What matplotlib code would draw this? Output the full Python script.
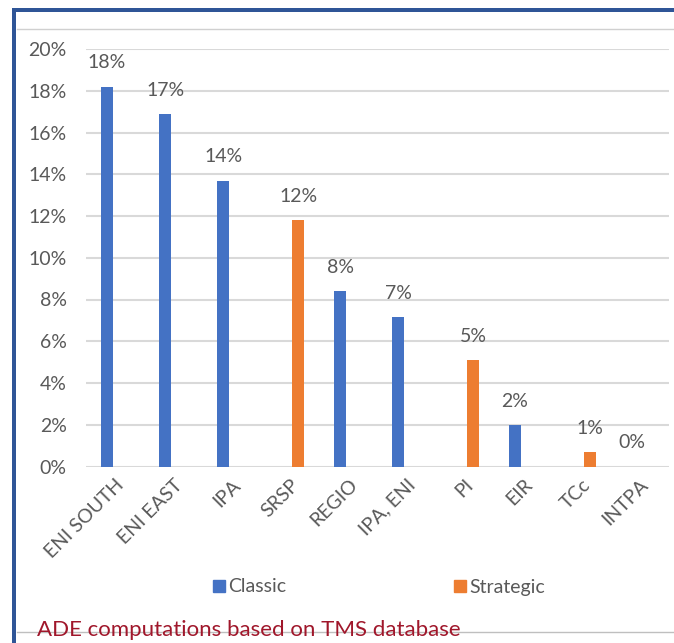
"""
Part des projets par instrument (Classic vs Strategic)
"""

import numpy as np
import matplotlib.pyplot as plt
from matplotlib.patches import Rectangle
from matplotlib.lines import Line2D

# ==================== DONNÉES ====================
categories = ['ENI SOUTH', 'ENI EAST', 'IPA', 'SRSP', 'REGIO', 'IPA, ENI', 'PI', 'EIR', 'TCc', 'INTPA']
classic = [18.2, 16.9, 13.7, 0, 8.4, 7.15, 0, 2.0, 0, 0.0]
strategic = [0, 0, 0, 11.8, 0, 0, 5.1, 0, 0.7, 0]
labels = ['18%', '17%', '14%', '12%', '8%', '7%', '5%', '2%', '1%', '0%']
label_series = ['c', 'c', 'c', 's', 'c', 'c', 's', 'c', 's', 'c']
yticks = [0, 2, 4, 6, 8, 10, 12, 14, 16, 18, 20]

BLUE = '#4472C4'
ORANGE = '#ED7D31'
GREY_TXT = '#595959'
GRID = '#D9D9D9'

plt.rcParams['font.family'] = ['Lato', 'DejaVu Sans']

fig = plt.figure(figsize=(6.74, 6.43), dpi=100)
W, H = 674, 643

# cadre bleu + boîte grise
fig.add_artist(Rectangle((12 / W, 1 - 12 / H), 1, 4 / H, transform=fig.transFigure,
                         color='#2F5597', lw=0))
fig.add_artist(Rectangle((12 / W, 0), 4 / W, 1 - 8 / H, transform=fig.transFigure,
                         color='#2F5597', lw=0))
fig.add_artist(Line2D([17 / W, 1], [1 - 29 / H, 1 - 29 / H], transform=fig.transFigure,
                      color='#D0D0D0', lw=1))
fig.add_artist(Line2D([17 / W, 1], [1 - 632 / H, 1 - 632 / H], transform=fig.transFigure,
                      color='#BFBFBF', lw=1))

# axes
left, right, top, bottom = 86, 669, 49, 466.5
ax = fig.add_axes([left / W, 1 - bottom / H, (right - left) / W, (bottom - top) / H])

x = np.arange(len(categories))
off = 0.142
bw = 0.205
ax.bar(x - off, classic, width=bw, color=BLUE, zorder=3)
ax.bar(x + off, strategic, width=bw, color=ORANGE, zorder=3)

for i, lab in enumerate(labels):
    if label_series[i] == 'c':
        xp, v = x[i] - off, classic[i]
    else:
        xp, v = x[i] + off, strategic[i]
    ax.annotate(lab, (xp, v), xytext=(0, 17), textcoords='offset points',
                ha='center', va='center', fontsize=14, color=GREY_TXT)

ax.set_xlim(-0.5, len(categories) - 0.5)
ax.set_ylim(0, 20)
ax.set_yticks(yticks)
ax.set_yticklabels([f'{t}%' for t in yticks])
ax.set_xticks(x)
ax.set_xticklabels(categories, rotation=45, ha='right', rotation_mode='anchor')
ax.tick_params(axis='both', length=0, labelsize=14, labelcolor=GREY_TXT)
ax.tick_params(axis='y', pad=14)
ax.tick_params(axis='x', pad=7)
ax.grid(axis='y', color=GRID, lw=1.5, zorder=0)
for s in ax.spines.values():
    s.set_visible(False)

# légende
handles = [Line2D([], [], marker='s', ls='', color=BLUE, markersize=9),
           Line2D([], [], marker='s', ls='', color=ORANGE, markersize=9)]
fig.legend(handles, ['Classic', 'Strategic'], ncol=2, loc='center',
           bbox_to_anchor=(378 / W, 1 - 587 / H), frameon=False, fontsize=14,
           labelcolor=GREY_TXT, handletextpad=0.1, columnspacing=8.5, handlelength=0.8)

# source
fig.text(37 / W, 1 - 636 / H, 'ADE computations based on TMS database',
         fontsize=16, color='#A0172B', ha='left', va='baseline')

plt.savefig('out.png', dpi=100)
